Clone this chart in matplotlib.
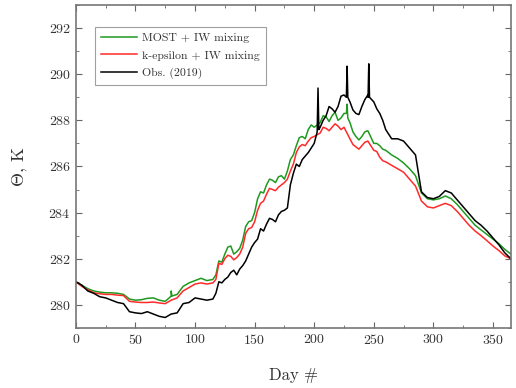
import numpy as np
import matplotlib
matplotlib.use('Agg')
import matplotlib.pyplot as plt
from matplotlib.ticker import MultipleLocator

plt.rcParams['font.family'] = 'serif'
plt.rcParams['font.serif'] = ['cmr10']
plt.rcParams['mathtext.fontset'] = 'cm'
plt.rcParams['axes.formatter.use_mathtext'] = True

# day numbers and potential temperature (K)
days = [0, 5, 10, 15, 20, 25, 30, 35, 40, 45, 50, 55, 60, 65, 70, 75, 80, 85, 90, 95,
        100, 105, 110, 115, 120, 125, 130, 135, 140, 145, 150, 155, 160, 165, 170, 175,
        180, 185, 190, 195, 200, 205, 210, 215, 220, 225, 230, 235, 240, 245, 250, 255,
        260, 265, 270, 275, 280, 285, 290, 295, 300, 305, 310, 315, 320, 325, 330, 335,
        340, 345, 350, 355, 360, 365]

most_iw = [281.0, 280.85, 280.7, 280.6, 280.55, 280.52, 280.52, 280.5, 280.45, 280.25,
           280.2, 280.22, 280.28, 280.3, 280.2, 280.15, 280.38, 280.45, 280.8, 280.95,
           281.05, 281.15, 281.05, 281.1, 281.9, 282.2, 282.55, 282.3, 282.8, 283.6,
           284.0, 284.9, 285.2, 285.4, 285.55, 285.45, 286.3, 286.9, 287.3, 287.6,
           287.7, 287.9, 288.15, 288.2, 288.0, 288.3, 287.9, 287.3, 287.3, 287.55,
           287.0, 286.9, 286.7, 286.5, 286.35, 286.15, 285.9, 285.6, 284.85, 284.6,
           284.55, 284.6, 284.72, 284.6, 284.35, 284.05, 283.75, 283.45, 283.25, 283.05,
           282.85, 282.65, 282.4, 282.2]

keps_iw = [281.0, 280.8, 280.65, 280.52, 280.48, 280.45, 280.45, 280.42, 280.4, 280.15,
           280.12, 280.1, 280.1, 280.12, 280.08, 280.05, 280.2, 280.3, 280.6, 280.75,
           280.9, 280.95, 280.9, 280.95, 281.8, 282.0, 282.1, 282.05, 282.5, 283.3,
           283.6, 284.4, 284.8, 285.0, 285.1, 285.3, 285.8, 286.6, 286.95, 287.1,
           287.3, 287.45, 287.65, 287.7, 287.75, 287.7, 287.2, 286.85, 286.9, 287.1,
           286.7, 286.4, 286.2, 286.05, 285.9, 285.75, 285.45, 285.15, 284.5, 284.25,
           284.2, 284.3, 284.4, 284.3, 284.05, 283.75, 283.45, 283.2, 283.0, 282.78,
           282.55, 282.35, 282.12, 282.0]

obs = [281.0, 280.85, 280.6, 280.5, 280.35, 280.3, 280.2, 280.1, 280.05, 279.7,
       279.65, 279.62, 279.7, 279.6, 279.5, 279.45, 279.6, 279.65, 280.05, 280.1,
       280.3, 280.25, 280.2, 280.25, 281.0, 281.1, 281.4, 281.3, 281.7, 282.2,
       282.7, 283.3, 283.5, 283.7, 283.9, 284.1, 285.2, 286.1, 286.3, 286.6,
       287.0, 287.7, 288.2, 288.5, 288.6, 289.1, 288.8, 288.3, 288.6, 289.1,
       288.8, 288.3, 287.6, 287.2, 287.2, 287.1, 286.8, 286.5, 284.9, 284.65,
       284.6, 284.7, 284.95, 284.85, 284.55, 284.25, 283.95, 283.65, 283.45, 283.2,
       282.9, 282.6, 282.25, 282.0]

# extra readings in between, where the curves are jagged (summer warming)
mid_days = [117.5, 122.5, 127.5, 132.5, 137.5, 142.5, 147.5, 152.5, 157.5, 162.5,
            167.5, 172.5, 177.5, 182.5, 187.5, 192.5, 197.5, 207.5, 212.5, 217.5,
            222.5, 232.5, 237.5, 242.5, 252.5, 257.5]
most_mid = [281.3, 281.85, 282.5, 282.2, 282.45, 283.4, 283.65, 284.6, 284.85, 285.45,
            285.3, 285.6, 285.8, 286.5, 287.25, 287.2, 287.8, 288.2, 287.95, 288.35,
            288.1, 287.5, 287.15, 287.5, 287.0, 286.75]
keps_mid = [281.1, 281.75, 282.15, 281.95, 282.2, 283.1, 283.35, 284.1, 284.5, 285.05,
            284.95, 285.2, 285.45, 286.1, 286.85, 286.9, 287.25, 287.7, 287.55, 287.85,
            287.6, 286.95, 286.75, 287.05, 286.65, 286.25]
obs_mid = [280.5, 280.95, 281.2, 281.5, 281.55, 281.9, 282.5, 282.85, 283.2, 283.75,
           283.6, 284.05, 284.2, 285.7, 286.0, 286.45, 286.8, 288.0, 288.6, 288.35,
           289.05, 288.45, 288.25, 288.9, 288.5, 288.0]

# short spikes
obs_spike_days = [202.5, 203.2, 203.9, 227.0, 227.6, 228.2, 245.2, 245.8, 246.4]
obs_spike_vals = [287.5, 289.4, 287.6, 289.0, 290.35, 289.0, 289.0, 290.45, 289.0]
most_spike_days = [79.4, 80.0, 80.6, 227.0, 227.6, 228.2]
most_spike_vals = [280.35, 280.6, 280.38, 288.3, 288.7, 288.1]


def merge(*pairs):
    xx = np.concatenate([p[0] for p in pairs])
    yy = np.concatenate([p[1] for p in pairs])
    order = np.argsort(xx)
    return xx[order], yy[order]


d_most, v_most = merge((days, most_iw), (mid_days, most_mid),
                       (most_spike_days, most_spike_vals))
d_keps, v_keps = merge((days, keps_iw), (mid_days, keps_mid))
d_obs, v_obs = merge((days, obs), (mid_days, obs_mid),
                     (obs_spike_days, obs_spike_vals))

fig = plt.figure(figsize=(5.16, 3.88), dpi=100)
ax = fig.add_axes([0.147, 0.155, 0.843, 0.832])

ax.plot(d_most, v_most, color='#1f9a1f', lw=1.1, label='MOST + IW mixing')
ax.plot(d_keps, v_keps, color='#ff2a2a', lw=1.1, label='k-epsilon + IW mixing')
ax.plot(d_obs, v_obs, color='black', lw=1.1, label='Obs. (2019)')

ax.set_xlim(0, 365)
ax.set_ylim(279, 293)
ax.xaxis.set_major_locator(MultipleLocator(50))
ax.xaxis.set_minor_locator(MultipleLocator(25))
ax.yaxis.set_major_locator(MultipleLocator(2))
ax.yaxis.set_minor_locator(MultipleLocator(1))
ax.tick_params(which='both', direction='in', top=True, right=True,
               color='#666666', labelsize=10, labelcolor='#333333')
ax.tick_params(which='major', length=4)
ax.tick_params(which='minor', length=2)
for s in ax.spines.values():
    s.set_color('#777777')
    s.set_linewidth(1.2)

ax.set_xlabel('Day #', fontsize=12, color='#333333', labelpad=15)
ax.set_ylabel(r'$\Theta$, K', fontsize=13, color='#333333', labelpad=14)

leg = ax.legend(loc='upper left', bbox_to_anchor=(0.030, 0.951), fontsize=8.5,
                fancybox=False, edgecolor='#888888', handlelength=3.05,
                handletextpad=0.45, borderpad=0.5, labelspacing=0.62)
leg.get_frame().set_linewidth(0.8)
for t in leg.get_texts():
    t.set_color('#333333')

fig.savefig('out.png', dpi=100)
